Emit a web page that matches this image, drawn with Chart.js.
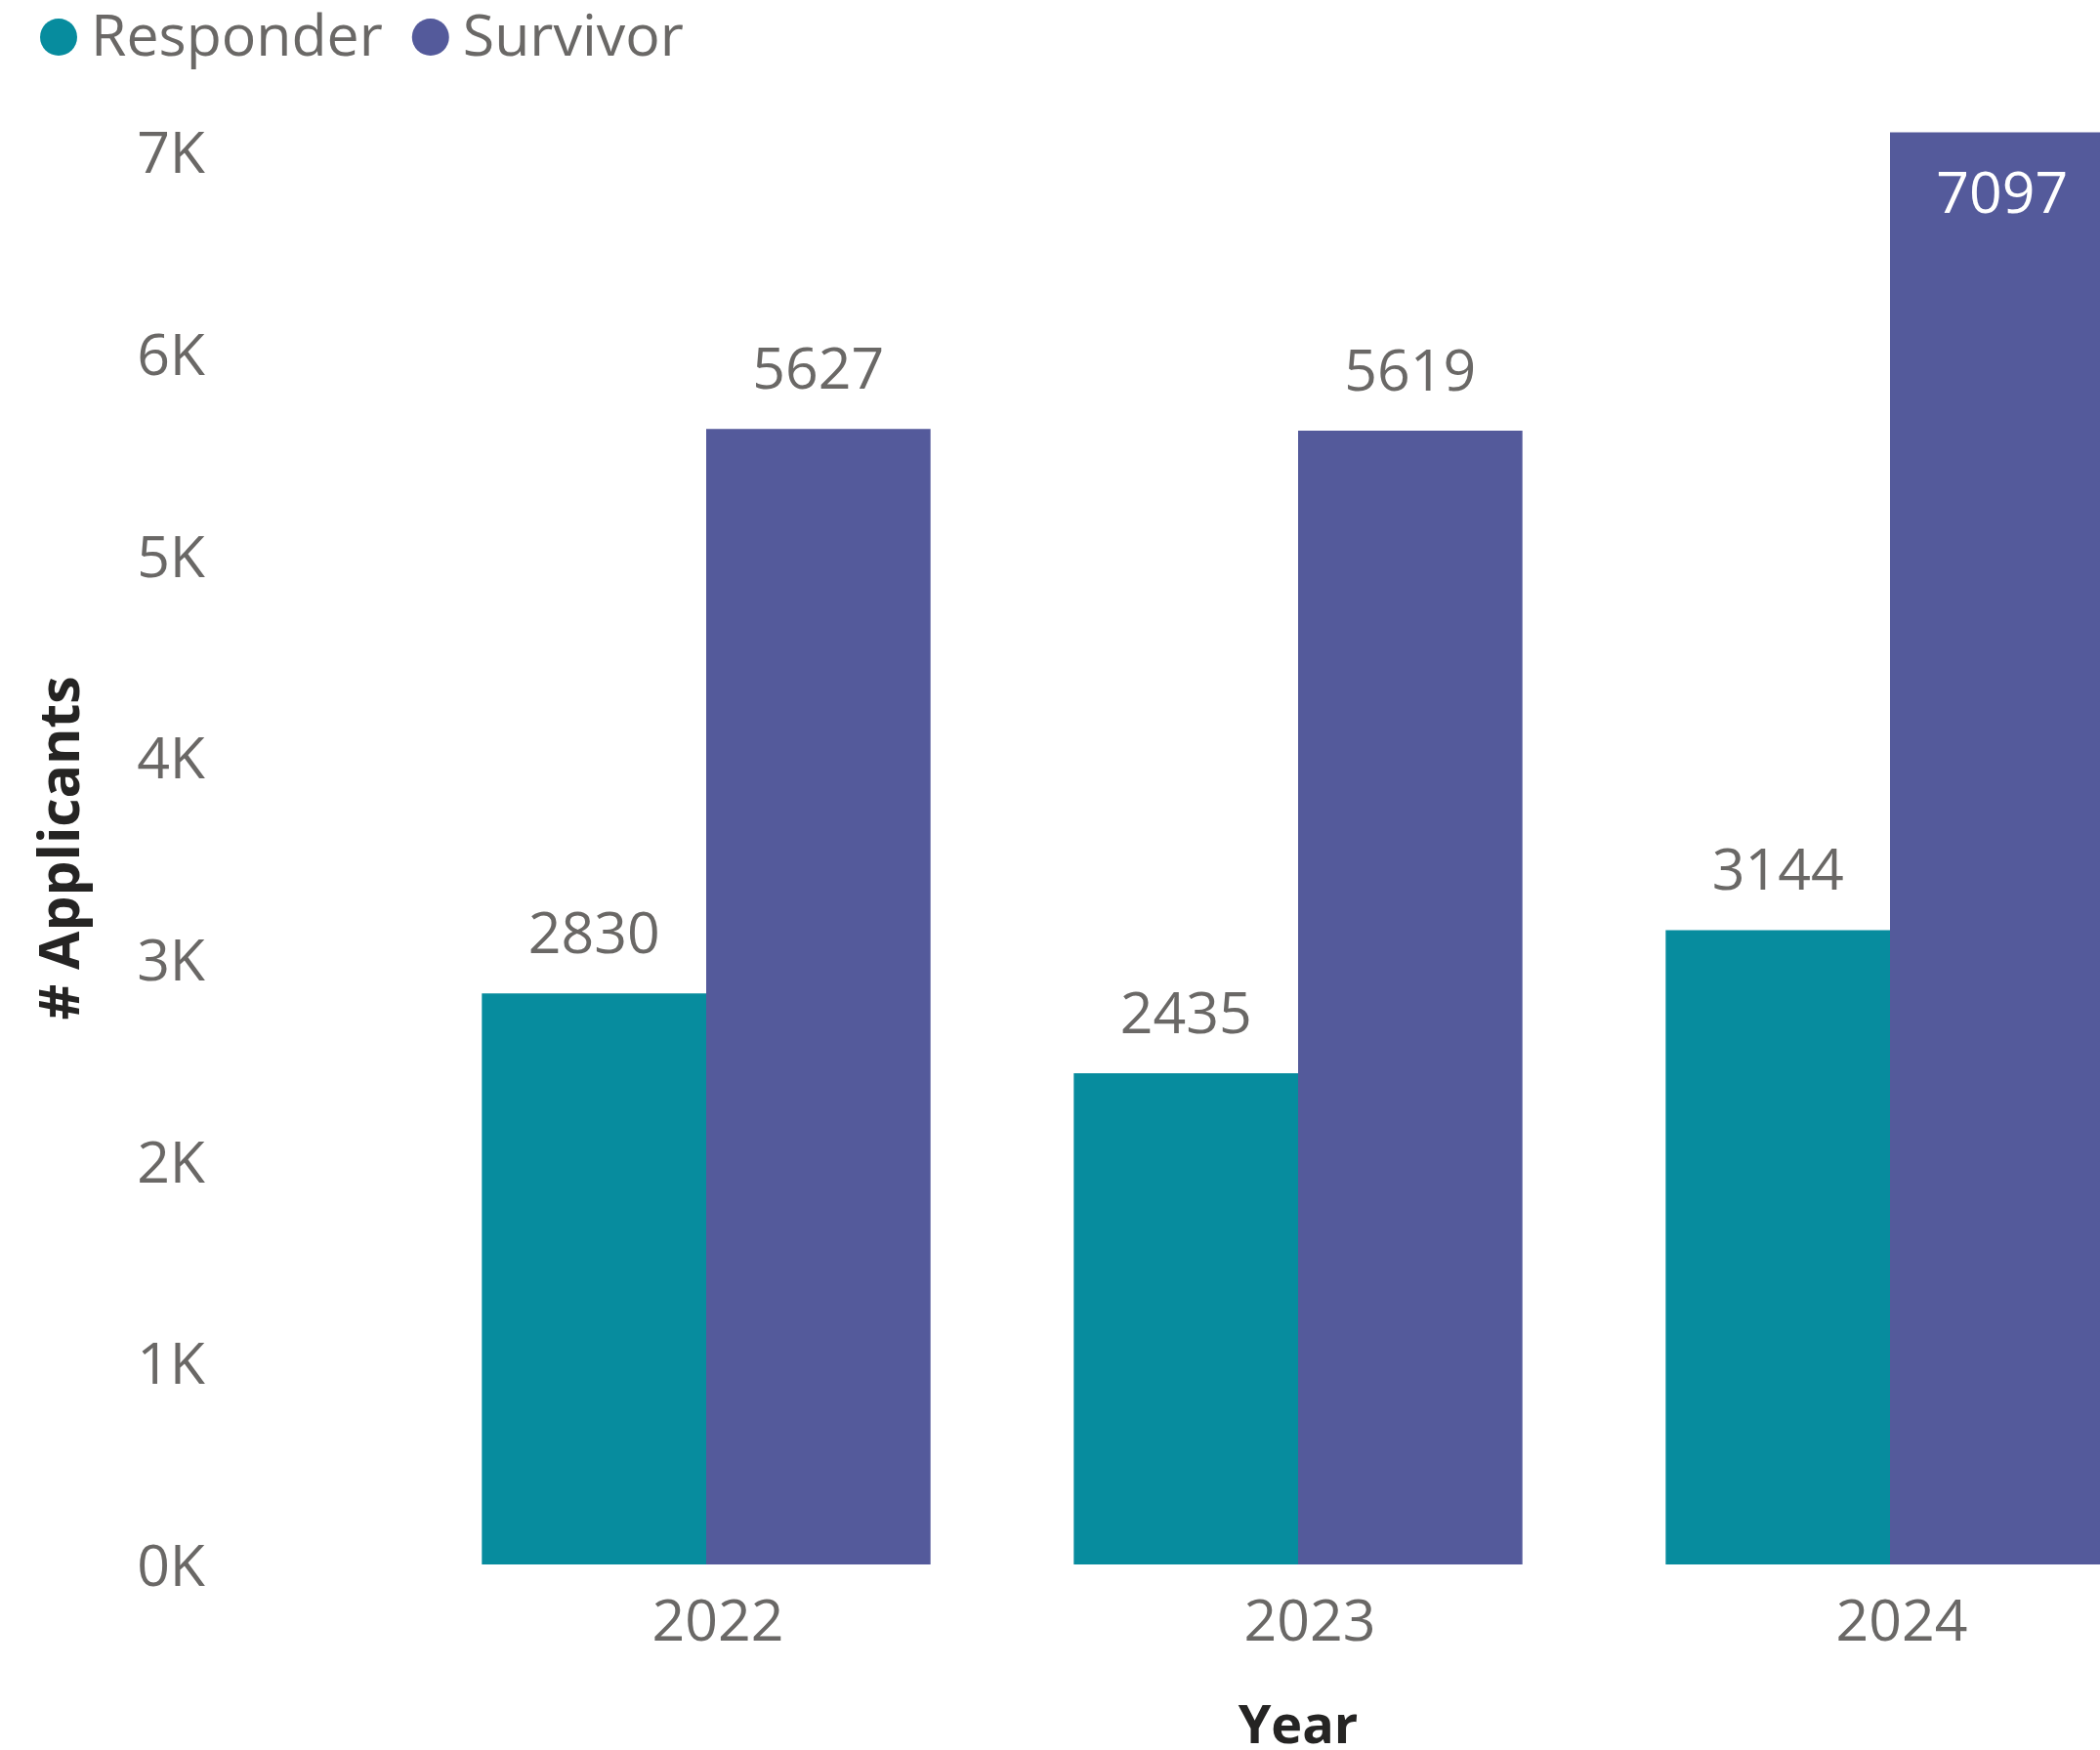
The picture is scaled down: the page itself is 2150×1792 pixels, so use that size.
<!DOCTYPE html>
<html><head><meta charset="utf-8">
<script src="https://cdn.jsdelivr.net/npm/chart.js@4"></script>
<style>
html,body{margin:0;padding:0;background:#fff;overflow:hidden;width:2150px;height:1792px}
#wrap{position:absolute;left:0;top:0;width:2238px;height:1792px}
canvas{display:block}
</style></head>
<body><div id="wrap"><canvas id="c" width="2238" height="1792"></canvas></div>
<script>
const categories = ['2022', '2023', '2024'];
const seriesNames = ['Responder', 'Survivor'];
const responderValues = [2830, 2435, 3144];
const survivorValues = [5627, 5619, 7097];
const seriesColors = ['#078C9E', '#545A9B'];
const yTickValues = [0, 1000, 2000, 3000, 4000, 5000, 6000, 7000];
const yMax = 7100;
const xTitle = 'Year';
const yTitle = '# Applicants';

const FONT = "'Open Sans', 'Noto Sans', sans-serif";
const GRAY = '#6A6866';
const DARK = '#252423';

const customLegend = {
  id: 'customLegend',
  afterDraw(chart) {
    const ctx = chart.ctx;
    ctx.save();
    ctx.font = '59px ' + FONT;
    ctx.textBaseline = 'middle';
    ctx.textAlign = 'left';
    const cy = 38;
    const r = 19;
    let x = 41;
    chart.data.datasets.forEach((ds, i) => {
      ctx.fillStyle = ds.backgroundColor;
      ctx.beginPath();
      ctx.arc(x + r, cy, r, 0, Math.PI * 2);
      ctx.fill();
      const tx = x + 2 * r + 14;
      ctx.fillStyle = GRAY;
      ctx.fillText(ds.label, tx, cy + 2);
      x = tx + ctx.measureText(ds.label).width + 30;
    });
    ctx.restore();
  }
};

const dataLabels = {
  id: 'dataLabels',
  afterDatasetsDraw(chart) {
    const ctx = chart.ctx;
    const area = chart.chartArea;
    ctx.save();
    ctx.font = '59px ' + FONT;
    ctx.textAlign = 'center';
    ctx.textBaseline = 'middle';
    chart.data.datasets.forEach((ds, di) => {
      const meta = chart.getDatasetMeta(di);
      meta.data.forEach((bar, i) => {
        const v = ds.data[i];
        let y = bar.y - 58;
        let color = GRAY;
        if (bar.y - 100 < area.top) { y = bar.y + 66; color = '#FFFFFF'; }
        ctx.fillStyle = color;
        ctx.fillText(String(v), bar.x, y);
      });
    });
    ctx.restore();
  }
};

new Chart(document.getElementById('c'), {
  type: 'bar',
  data: {
    labels: categories,
    datasets: [
      { label: seriesNames[0], data: responderValues, backgroundColor: seriesColors[0], borderWidth: 0 },
      { label: seriesNames[1], data: survivorValues, backgroundColor: seriesColors[1], borderWidth: 0 }
    ]
  },
  options: {
    responsive: false,
    animation: false,
    devicePixelRatio: 1,
    layout: { padding: { left: 31, top: 135, right: 0, bottom: 0 } },
    datasets: { bar: { categoryPercentage: 0.758, barPercentage: 1.0 } },
    plugins: {
      tooltip: { enabled: false },
      legend: { display: false }
    },
    scales: {
      x: {
        grid: { display: false, drawTicks: false },
        border: { display: false },
        ticks: { color: GRAY, font: { family: FONT, size: 59 }, padding: 26, maxRotation: 0, labelOffset: 12 },
        title: { display: true, text: xTitle, color: DARK, font: { family: FONT, size: 54, weight: 'bold' }, padding: { top: 0, bottom: -10 } },
        afterFit(s) { s.height = 190; s.paddingLeft = 0; s.paddingRight = 0; }
      },
      y: {
        min: 0,
        max: yMax,
        grid: { display: false, drawTicks: false },
        border: { display: false },
        afterBuildTicks(s) { s.ticks = yTickValues.map(v => ({ value: v })); },
        ticks: {
          color: GRAY,
          font: { family: FONT, size: 59 },
          padding: 210,
          labelOffset: 5,
          callback: (v) => (v / 1000) + 'K'
        },
        title: { display: true, text: yTitle, color: DARK, font: { family: FONT, size: 57, weight: 'bold' }, padding: { top: 0, bottom: 0 } },
        afterFit(s) { s.width = 389; s.paddingTop = 0; s.paddingBottom = 0; }
      }
    }
  },
  plugins: [dataLabels, customLegend]
});
</script>
</body></html>
